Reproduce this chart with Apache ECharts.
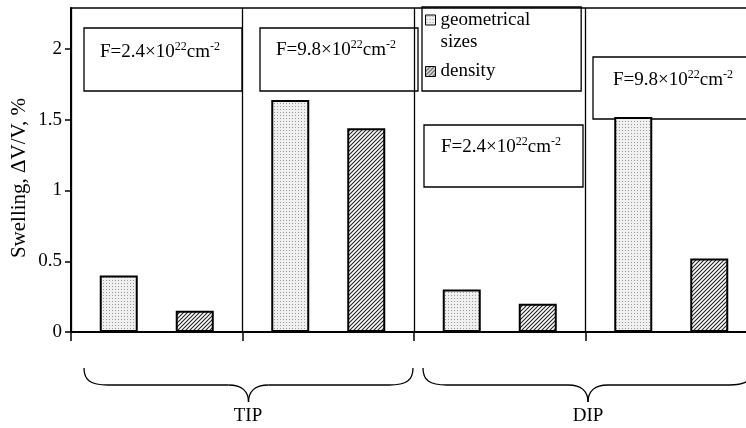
<!DOCTYPE html>
<html>
<head>
<meta charset="utf-8">
<script src="https://cdn.jsdelivr.net/npm/echarts@6/dist/echarts.min.js"></script>
<style>
  html, body { margin: 0; padding: 0; background: #fff; }
  #chart { width: 746px; height: 428px; }
</style>
</head>
<body>
<div id="chart"></div>
<script>
// data
var categories = ["TIP 2.4", "TIP 9.8", "DIP 2.4", "DIP 9.8"];
var seriesNames = ["geometrical sizes", "density"];
var geomValues = [0.40, 1.64, 0.30, 1.52];
var densityValues = [0.15, 1.44, 0.20, 0.52];
var yTicks = [0, 0.5, 1, 1.5, 2];

var FONT = "'Liberation Serif', 'Times New Roman', serif";

// fill patterns
function dotPattern() {
  var c = document.createElement("canvas");
  c.width = 3; c.height = 3;
  var ctx = c.getContext("2d");
  ctx.fillStyle = "#f0f0f0";
  ctx.fillRect(0, 0, 3, 3);
  ctx.fillStyle = "#9a9a9a";
  ctx.fillRect(1, 1, 1, 1);
  return c;
}
function hatchPattern() {
  var c = document.createElement("canvas");
  c.width = 4; c.height = 4;
  var ctx = c.getContext("2d");
  ctx.fillStyle = "#fff";
  ctx.fillRect(0, 0, 4, 4);
  ctx.strokeStyle = "#222";
  ctx.lineWidth = 1.1;
  ctx.beginPath();
  ctx.moveTo(-1, 5); ctx.lineTo(5, -1);
  ctx.moveTo(-1, 1); ctx.lineTo(1, -1);
  ctx.moveTo(3, 5); ctx.lineTo(5, 3);
  ctx.stroke();
  return c;
}
var geomFill = { image: dotPattern(), repeat: "repeat" };
var densFill = { image: hatchPattern(), repeat: "repeat" };

var fluenceRich = {
  n: { fontFamily: FONT, fontSize: 19, color: "#000", lineHeight: 22 },
  s: { fontFamily: FONT, fontSize: 12, color: "#000", lineHeight: 14, verticalAlign: "top" }
};
function fluenceBox(x, y, w, h, tx, ty, txt) {
  return {
    type: "group",
    children: [
      { type: "rect", shape: { x: x, y: y, width: w, height: h },
        style: { fill: "none", stroke: "#000", lineWidth: 1.3 } },
      { type: "text", x: tx, y: ty,
        style: { text: txt, rich: fluenceRich, verticalAlign: "middle" } }
    ]
  };
}
var lineStyle = { fill: "none", stroke: "#000", lineWidth: 1.3 };
function curve(x1, y1, c1x, c1y, c2x, c2y, x2, y2) {
  return { type: "bezierCurve",
    shape: { x1: x1, y1: y1, cpx1: c1x, cpy1: c1y, cpx2: c2x, cpy2: c2y, x2: x2, y2: y2 },
    style: lineStyle };
}
function seg(x1, y1, x2, y2) {
  return { type: "line", shape: { x1: x1, y1: y1, x2: x2, y2: y2 }, style: lineStyle };
}
function brace(x0, x1, yTop, yMid, yTip) {
  var xm = (x0 + x1) / 2;
  return { type: "group", children: [
    curve(x0, yTop, x0, yMid - 5, x0 + 6, yMid, x0 + 24, yMid),
    seg(x0 + 24, yMid, xm - 20, yMid),
    curve(xm - 20, yMid, xm - 6, yMid, xm, yMid + 7, xm, yTip),
    curve(xm, yTip, xm, yMid + 7, xm + 6, yMid, xm + 20, yMid),
    seg(xm + 20, yMid, x1 - 24, yMid),
    curve(x1 - 24, yMid, x1 - 6, yMid, x1, yMid - 5, x1, yTop)
  ] };
}

// legend icons: square at the first text line (two-line item) or centred
var iconTop = "path://M0,0L10,0L10,10L0,10Z M0,32";
var iconMid = "path://M0,11L10,11L10,21L0,21Z M0,0 M0,32";

var chart = echarts.init(document.getElementById("chart"));
var option = {
  backgroundColor: "#fff",
  animation: false,
  grid: {
    left: 71, right: -11, top: 8, bottom: 96,
    outerBoundsMode: "none",
    show: true, borderColor: "#000", borderWidth: 1.5
  },
  legend: {
    orient: "vertical",
    left: 422, top: 7,
    data: [
      { name: seriesNames[0], icon: iconTop, itemStyle: { color: geomFill, borderColor: "#000", borderWidth: 1 } },
      { name: seriesNames[1], icon: iconMid, itemStyle: { color: densFill, borderColor: "#000", borderWidth: 1 } }
    ],
    formatter: function (name) {
      return name === "geometrical sizes" ? "geometrical\nsizes" : name;
    },
    itemWidth: 10, itemHeight: 32, itemGap: 2,
    padding: [2, 51, 3, 3],
    borderColor: "#000", borderWidth: 1.3,
    textStyle: { fontFamily: FONT, fontSize: 19, color: "#000", lineHeight: 22 }
  },
  xAxis: {
    type: "category",
    data: categories,
    axisLine: { lineStyle: { color: "#000", width: 2 } },
    axisTick: { show: true, inside: false, length: 9, lineStyle: { color: "#000", width: 1.5 } },
    axisLabel: { show: false },
    splitLine: { show: true, lineStyle: { color: "#000", width: 1.3 } }
  },
  yAxis: {
    type: "value",
    min: 0, max: 2.29, interval: 0.5,
    name: "Swelling, ΔV/V, %",
    nameLocation: "middle",
    nameGap: 41,
    nameMoveOverlap: false,
    nameTextStyle: { fontFamily: FONT, fontSize: 21, color: "#000", padding: [0, 16, 0, 0] },
    axisLine: { show: true, lineStyle: { color: "#000", width: 2 } },
    axisTick: { show: true, inside: false, length: 6, customValues: yTicks, lineStyle: { color: "#000", width: 1.5 } },
    axisLabel: { customValues: yTicks, margin: 9, fontFamily: FONT, fontSize: 19, color: "#000" },
    splitLine: { show: false }
  },
  series: [
    { name: seriesNames[0], type: "bar", data: geomValues, barWidth: 38, barGap: "100%",
      itemStyle: { color: geomFill, borderColor: "#000", borderWidth: 2 } },
    { name: seriesNames[1], type: "bar", data: densityValues, barWidth: 38,
      itemStyle: { color: densFill, borderColor: "#000", borderWidth: 2 } }
  ],
  graphic: [
    fluenceBox(84, 28, 158, 63, 100, 52, "{n|F=2.4×10}{s|22}{n|cm}{s|-2}"),
    fluenceBox(260, 28, 158, 63, 276, 50, "{n|F=9.8×10}{s|22}{n|cm}{s|-2}"),
    fluenceBox(424, 125, 159, 62, 441, 147, "{n|F=2.4×10}{s|22}{n|cm}{s|-2}"),
    fluenceBox(593, 57, 170, 62, 613, 80, "{n|F=9.8×10}{s|22}{n|cm}{s|-2}"),
    brace(84, 413, 368, 385, 402),
    brace(423, 753, 368, 385, 402),
    { type: "text", x: 248, y: 416, style: { text: "TIP", fontFamily: FONT, fontSize: 19, fill: "#000", align: "center", verticalAlign: "middle" } },
    { type: "text", x: 588, y: 416, style: { text: "DIP", fontFamily: FONT, fontSize: 19, fill: "#000", align: "center", verticalAlign: "middle" } }
  ]
};
chart.setOption(option);
</script>
</body>
</html>
